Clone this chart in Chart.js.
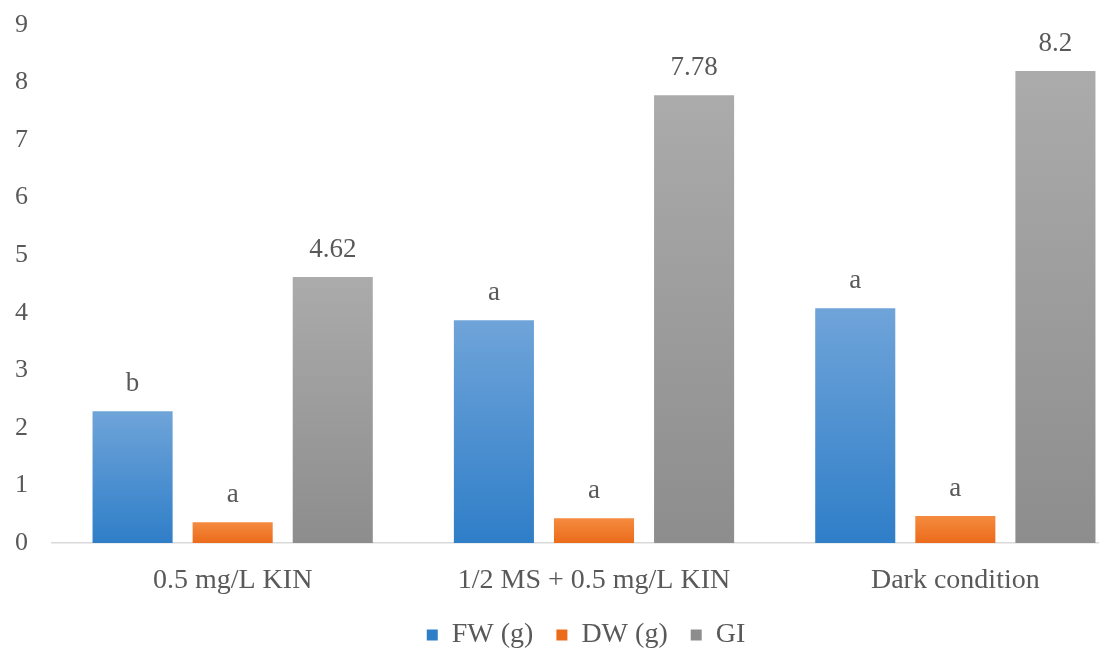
<!DOCTYPE html>
<html>
<head>
<meta charset="utf-8">
<script src="https://cdn.jsdelivr.net/npm/chart.js@4"></script>
<style>
    html, body { margin: 0; padding: 0; background: #fff; overflow: hidden; }
    #wrap { width: 1137px; height: 650px; position: relative; }
</style>
</head>
<body>
<div id="wrap"><canvas id="growthChart"></canvas></div>
<script>
const categories = ['0.5 mg/L KIN', '1/2 MS + 0.5 mg/L KIN', 'Dark condition'];
const seriesNames = ['FW (g)', 'DW (g)', 'GI'];
const fwValues = [2.29, 3.87, 4.08];
const dwValues = [0.36, 0.43, 0.47];
const giValues = [4.62, 7.78, 8.2];
const fwLabels = ['b', 'a', 'a'];
const dwLabels = ['a', 'a', 'a'];
const giLabels = ['4.62', '7.78', '8.2'];
const yTicks = [0, 1, 2, 3, 4, 5, 6, 7, 8, 9];

const FONT = '"Liberation Serif", "Times New Roman", serif';
const TEXT = '#595959';

// top / bottom colours of each bar's gradient
const shades = [
    ['#6fa4d9', '#2f7ec8'],
    ['#f58b3f', '#eb6b1b'],
    ['#ababab', '#8d8d8d']
];

function barFill(idx) {
    return (ctx) => {
        const chart = ctx.chart;
        const { chartArea } = chart;
        if (!chartArea || ctx.raw === undefined) return shades[idx][1];
        const yScale = chart.scales.y;
        const top = yScale.getPixelForValue(ctx.raw);
        const bottom = yScale.getPixelForValue(0);
        const g = chart.ctx.createLinearGradient(0, top, 0, bottom);
        g.addColorStop(0, shades[idx][0]);
        g.addColorStop(1, shades[idx][1]);
        return g;
    };
}

// letters / values above bars
const barTextPlugin = {
    id: 'barText',
    afterLayout(chart) {
        // centre the legend a little left of the plot, like the original
        const lg = chart.legend;
        if (lg) { lg.left = 36; lg.width = lg.right - lg.left; }
    },
    afterDatasetsDraw(chart) {
        const c = chart.ctx;
        c.save();
        c.font = `27px ${FONT}`;
        c.fillStyle = TEXT;
        c.textAlign = 'center';
        c.textBaseline = 'middle';
        chart.data.datasets.forEach((ds, i) => {
            chart.getDatasetMeta(i).data.forEach((bar, j) => {
                c.fillText(ds.topLabels[j], bar.x, bar.y - 27);
            });
        });
        c.restore();
    }
};

const ctx = document.getElementById('growthChart').getContext('2d');
new Chart(ctx, {
    type: 'bar',
    data: {
        labels: categories,
        datasets: [
            { label: seriesNames[0], data: fwValues, topLabels: fwLabels, backgroundColor: barFill(0) },
            { label: seriesNames[1], data: dwValues, topLabels: dwLabels, backgroundColor: barFill(1) },
            { label: seriesNames[2], data: giValues, topLabels: giLabels, backgroundColor: barFill(2) }
        ]
    },
    options: {
        responsive: true,
        maintainAspectRatio: false,
        animation: false,
        layout: { padding: { top: 25, right: 1, left: 0, bottom: -9 } },
        datasets: {
            bar: { categoryPercentage: 0.831, barPercentage: 0.8 }
        },
        scales: {
            x: {
                grid: { display: false, drawTicks: false },
                border: { display: true, color: '#d9d9d9', width: 1.5 },
                ticks: { color: TEXT, font: { family: FONT, size: 28 }, padding: 21, maxRotation: 0 },
                afterFit: (s) => { s.height = 55; }
            },
            y: {
                min: 0,
                max: 9,
                afterBuildTicks: (s) => { s.ticks = yTicks.map(v => ({ value: v })); },
                grid: { display: false, drawTicks: false },
                border: { display: false },
                ticks: { color: TEXT, font: { family: FONT, size: 26 }, padding: 24 },
                afterFit: (s) => { s.width = 52; s.paddingTop = 0; s.paddingBottom = 0; }
            }
        },
        plugins: {
            legend: {
                position: 'bottom',
                fullSize: false,
                labels: {
                    color: TEXT,
                    font: { family: FONT, size: 28 },
                    boxWidth: 11,
                    boxHeight: 11,
                    padding: 23,
                    generateLabels: (chart) => chart.data.datasets.map((ds, i) => ({
                        text: ds.label,
                        fillStyle: shades[i][1],
                        strokeStyle: shades[i][1],
                        lineWidth: 0,
                        datasetIndex: i,
                        fontColor: TEXT
                    }))
                }
            },
            tooltip: { enabled: false }
        }
    },
    plugins: [barTextPlugin]
});
</script>
</body>
</html>
